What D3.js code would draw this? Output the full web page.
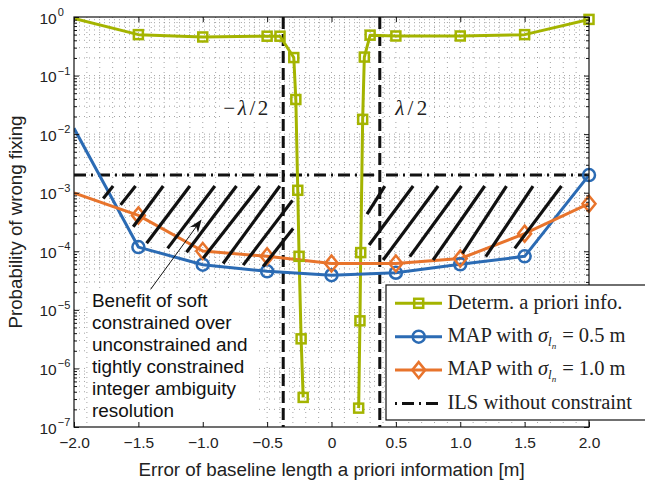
<!DOCTYPE html>
<html><head><meta charset="utf-8">
<script src="https://cdn.jsdelivr.net/npm/d3@7"></script>
<style>body{margin:0;background:#fff}svg{display:block}</style>
</head><body><svg id="c" width="645" height="485"></svg>
<script>
// ---------------- data ----------------
const xTicks = [-2.0, -1.5, -1.0, -0.5, 0, 0.5, 1.0, 1.5, 2.0];
const xTickLabels = ["\u22122.0", "\u22121.5", "\u22121.0", "\u22120.5", "0", "0.5", "1.0", "1.5", "2.0"];
const yTickExps = [0, -1, -2, -3, -4, -5, -6, -7];
const yTickSup = ["0", "\u22121", "\u22122", "\u22123", "\u22124", "\u22125", "\u22126", "\u22127"];

// Determ. a priori info. (null = zero probability -> gap on log axis)
const detX = [-2.0, -1.5, -1.0, -0.5, -0.4, -0.293, -0.277, -0.262, -0.252, -0.236, -0.220, 0,
              0.211, 0.221, 0.227, 0.242, 0.255, 0.30, 0.5, 1.0, 1.5, 2.0];
const detP = [0.94, 0.50, 0.456, 0.47, 0.47, 0.203, 0.039, 1.1e-3, 8.2e-5, 3.2e-6, 3.2e-7, null,
              2.1e-7, 6.5e-6, 9.5e-5, 0.0179, 0.207, 0.49, 0.474, 0.474, 0.50, 0.91];

const mapX = [-2.0, -1.5, -1.0, -0.5, 0, 0.5, 1.0, 1.5, 2.0];
const map05P = [0.0126, 1.18e-4, 5.9e-5, 4.55e-5, 3.9e-5, 4.3e-5, 6.0e-5, 8.2e-5, 2.0e-3];
const map10P = [9.9e-4, 4.1e-4, 1.01e-4, 8.2e-5, 6.2e-5, 6.2e-5, 7.5e-5, 2.0e-4, 6.5e-4];

const ilsP = 2.0e-3;
const halfLambda = 0.375;

// hatch segments [xBottom, pBottom, xTop, pTop]
const hatchSegs = [
  [-1.773, 8.0e-4, -1.696, 1.3e-3],
  [-1.638, 6.2e-4, -1.522, 1.3e-3],
  [-1.540, 2.63e-4, -1.307, 1.3e-3],
  [-1.436, 1.37e-4, -1.100, 1.3e-3],
  [-1.273, 1.12e-4, -0.906, 1.3e-3],
  [-1.126, 9.6e-5, -0.738, 1.3e-3],
  [-0.997, 7.6e-5, -0.557, 1.3e-3],
  [-0.842, 6.2e-5, -0.401, 1.3e-3],
  [-0.686, 5.8e-5, -0.303, 7.4e-4],
  [-0.531, 5.5e-5, -0.298, 2.44e-4],
  [0.276, 4.3e-4, 0.414, 1.3e-3],
  [0.292, 1.28e-4, 0.634, 1.3e-3],
  [0.401, 7.1e-5, 0.828, 1.3e-3],
  [0.608, 8.1e-5, 1.009, 1.3e-3],
  [0.789, 7.1e-5, 1.190, 1.3e-3],
  [1.017, 9.2e-5, 1.359, 1.3e-3],
  [1.198, 8.1e-5, 1.565, 1.3e-3],
  [1.423, 1.12e-4, 1.786, 1.3e-3]
];
const arrowTail = [-1.405, 2.24e-5];
const arrowTip = [-1.009, 3.5e-4];
const noteLines = ["Benefit of soft", "constrained over", "unconstrained and", "tightly constrained", "integer ambiguity", "resolution"];

const xLabel = "Error of baseline length a priori information [m]";
const yLabel = "Probability of wrong fixing";

// ---------------- styles ----------------
const cGreen = "#a4b400", cBlue = "#2b6bb4", cOrange = "#e8742c";
const sans = "'Liberation Sans', Arial, Helvetica, sans-serif";
const serif = "'Liberation Serif', 'Times New Roman', serif";

const svg = d3.select("#c");
const L = 74, R = 589, T = 17, B = 427;
const x = d3.scaleLinear().domain([-2, 2]).range([L, R]);
const y = d3.scaleLog().domain([1e-7, 1]).range([B, T]);

svg.append("defs").append("clipPath").attr("id", "clip")
  .append("rect").attr("x", L).attr("y", T).attr("width", R - L).attr("height", B - T);

// ---------------- grid ----------------
const grid = svg.append("g").attr("stroke", "#8c8c8c").attr("stroke-width", 0.8)
  .attr("stroke-dasharray", "1,4");
const xGrid = d3.range(-19, 20).map(i => i / 10);
grid.selectAll(".gx").data(xGrid).join("line")
  .attr("x1", d => x(d)).attr("x2", d => x(d)).attr("y1", T).attr("y2", B);
const yGrid = [];
for (let e = -7; e <= -1; e++) for (let k = 1; k <= 9; k++) if (!(e === -7 && k === 1)) yGrid.push(k * Math.pow(10, e));
grid.selectAll(".gy").data(yGrid).join("line")
  .attr("x1", L).attr("x2", R).attr("y1", d => y(d)).attr("y2", d => y(d));

// ---------------- reference lines ----------------
const ref = svg.append("g").attr("clip-path", "url(#clip)");
[-halfLambda, halfLambda].forEach(v => {
  ref.append("line").attr("x1", x(v)).attr("x2", x(v)).attr("y1", T).attr("y2", B)
    .attr("stroke", "#111").attr("stroke-width", 3).attr("stroke-dasharray", "12,5");
});
ref.append("line").attr("x1", x(-2)).attr("x2", x(2)).attr("y1", y(ilsP)).attr("y2", y(ilsP))
  .attr("stroke", "#111").attr("stroke-width", 3).attr("stroke-dasharray", "12,5,2,5");

// ---------------- series ----------------
const detData = detX.map((v, i) => ({x: v, p: detP[i]}));
const m05Data = mapX.map((v, i) => ({x: v, p: map05P[i]}));
const m10Data = mapX.map((v, i) => ({x: v, p: map10P[i]}));
const lineGen = d3.line().defined(d => d.p != null && d.p > 0).x(d => x(d.x)).y(d => y(d.p));

const lines = svg.append("g").attr("clip-path", "url(#clip)");
[[detData, cGreen], [m05Data, cBlue], [m10Data, cOrange]].forEach(([data, col]) => {
  lines.append("path").datum(data).attr("d", lineGen).attr("fill", "none")
    .attr("stroke", col).attr("stroke-width", 3).attr("stroke-linejoin", "round");
});

function squareM(g, cx, cy, col) {
  g.append("rect").attr("x", cx - 4.5).attr("y", cy - 4.5).attr("width", 9).attr("height", 9)
    .attr("fill", "none").attr("stroke", col).attr("stroke-width", 2.5);
}
function circleM(g, cx, cy, col) {
  g.append("circle").attr("cx", cx).attr("cy", cy).attr("r", 6)
    .attr("fill", "none").attr("stroke", col).attr("stroke-width", 2.5);
}
function diamondM(g, cx, cy, col) {
  g.append("path").attr("d", `M${cx},${cy - 8}L${cx + 6.5},${cy}L${cx},${cy + 8}L${cx - 6.5},${cy}Z`)
    .attr("fill", "none").attr("stroke", col).attr("stroke-width", 2.5);
}
const marks = svg.append("g");
detData.forEach((d, i) => { if (i > 0 && d.p) squareM(marks, x(d.x), y(d.p), cGreen); });
m05Data.forEach((d, i) => { if (i > 0) circleM(marks, x(d.x), y(d.p), cBlue); });
m10Data.forEach((d, i) => { if (i > 0) diamondM(marks, x(d.x), y(d.p), cOrange); });

// ---------------- hatch ----------------
svg.append("g").selectAll("line").data(hatchSegs).join("line")
  .attr("x1", d => x(d[0])).attr("y1", d => y(d[1])).attr("x2", d => x(d[2])).attr("y2", d => y(d[3]))
  .attr("stroke", "#111").attr("stroke-width", 3.2);

// ---------------- annotation ----------------
const noteG = svg.append("g");
noteG.append("rect").attr("x", 88).attr("y", 289).attr("width", 168).attr("height", B - 289 - 1).attr("fill", "#fff");
noteG.append("text").attr("font-family", sans).attr("font-size", 18.9).attr("fill", "#111")
  .selectAll("tspan").data(noteLines).join("tspan")
  .attr("x", 92).attr("y", (d, i) => 307.3 + i * 21.85).text(d => d);

const ax0 = x(arrowTail[0]), ay0 = y(arrowTail[1]), ax1 = x(arrowTip[0]), ay1 = y(arrowTip[1]);
const ang = Math.atan2(ay1 - ay0, ax1 - ax0);
const hl = 13, hw = 5;
const ux = Math.cos(ang), uy = Math.sin(ang), px = -uy, py = ux;
noteG.append("line").attr("x1", ax0).attr("y1", ay0).attr("x2", ax1 - ux * 6).attr("y2", ay1 - uy * 6)
  .attr("stroke", "#111").attr("stroke-width", 1);
const bx = ax1 - ux * hl, by = ay1 - uy * hl, nx = ax1 - ux * hl * 0.7, ny = ay1 - uy * hl * 0.7;
noteG.append("path").attr("d", `M${ax1},${ay1}L${bx + px * hw},${by + py * hw}L${nx},${ny}L${bx - px * hw},${by - py * hw}Z`)
  .attr("fill", "#111");

// lambda labels
function lamLabel(txt, xStart, width) {
  const g = svg.append("g");
  g.append("rect").attr("x", xStart - 2).attr("y", 99).attr("width", width + 4).attr("height", 20).attr("fill", "#fff");
  const t = g.append("text").attr("x", xStart).attr("y", 115).attr("font-family", serif).attr("font-size", 21)
    .attr("fill", "#222").attr("textLength", width).attr("lengthAdjust", "spacing");
  if (txt.startsWith("\u2212")) t.append("tspan").text("\u2212");
  t.append("tspan").attr("font-style", "italic").text("\u03bb");
  t.append("tspan").text("/2");
}
lamLabel("\u2212", x(-0.84), 45);
lamLabel("", x(0.495), 32);

// ---------------- axes ----------------
const xAxisB = d3.axisBottom(x).tickValues(xTicks).tickFormat((d, i) => xTickLabels[i]).tickSizeInner(-5).tickSizeOuter(0).tickPadding(9.5);
const gxB = svg.append("g").attr("transform", `translate(0,${B})`).call(xAxisB);
gxB.selectAll("text").attr("font-family", sans).attr("font-size", 15.5).attr("fill", "#222");
const gxT = svg.append("g").attr("transform", `translate(0,${T})`)
  .call(d3.axisTop(x).tickValues(xTicks).tickFormat("").tickSizeInner(-5).tickSizeOuter(0));

const yMinor = yGrid.filter(v => Math.abs(Math.log10(v) - Math.round(Math.log10(v))) > 1e-9);
const yMajor = yTickExps.map(e => Math.pow(10, e));
svg.append("g").attr("transform", `translate(${L},0)`).call(d3.axisLeft(y).tickValues(yMajor).tickFormat("").tickSizeInner(-5).tickSizeOuter(0));
svg.append("g").attr("transform", `translate(${L},0)`).call(d3.axisLeft(y).tickValues(yMinor).tickFormat("").tickSizeInner(-3).tickSizeOuter(0));
svg.append("g").attr("transform", `translate(${R},0)`).call(d3.axisRight(y).tickValues(yMajor).tickFormat("").tickSizeInner(-5).tickSizeOuter(0));
svg.append("g").attr("transform", `translate(${R},0)`).call(d3.axisRight(y).tickValues(yMinor).tickFormat("").tickSizeInner(-3).tickSizeOuter(0));
svg.selectAll(".domain").remove();
svg.selectAll(".tick line").attr("stroke", "#111").attr("stroke-width", 1);

svg.append("rect").attr("x", L).attr("y", T).attr("width", R - L).attr("height", B - T)
  .attr("fill", "none").attr("stroke", "#111").attr("stroke-width", 1.2);

const yl = svg.append("g");
yTickExps.forEach((e, i) => {
  const t = yl.append("text").attr("x", 39.5).attr("y", y(Math.pow(10, e)) + 6.5)
    .attr("font-family", sans).attr("font-size", 15.5).attr("fill", "#222");
  t.append("tspan").text("10");
  t.append("tspan").attr("font-size", 11).attr("dy", -7.5).attr("dx", 1).text(yTickSup[i]);
});

svg.append("text").attr("x", (L + R) / 2).attr("y", 476).attr("text-anchor", "middle")
  .attr("font-family", sans).attr("font-size", 18.8).attr("fill", "#222").text(xLabel);
svg.append("text").attr("transform", `translate(22,${(T + B) / 2}) rotate(-90)`).attr("text-anchor", "middle")
  .attr("font-family", sans).attr("font-size", 18.7).attr("fill", "#222").text(yLabel);

// ---------------- legend ----------------
const lg = svg.append("g");
lg.append("rect").attr("x", 386).attr("y", 285).attr("width", 300).attr("height", 135)
  .attr("fill", "#fff").attr("stroke", "#111").attr("stroke-width", 1.2);
const legRows = [
  {col: cGreen, mark: squareM, dash: null},
  {col: cBlue, mark: circleM, dash: null},
  {col: cOrange, mark: diamondM, dash: null},
  {col: "#111", mark: null, dash: "2,5,12,5"}
];
legRows.forEach((r, i) => {
  const cy = 303.3 + i * 33.4;
  lg.append("line").attr("x1", 395).attr("x2", 442).attr("y1", cy).attr("y2", cy)
    .attr("stroke", r.col).attr("stroke-width", 3).attr("stroke-dasharray", r.dash);
  if (r.mark) r.mark(lg, 418.7, cy, r.col);
  const t = lg.append("text").attr("x", 447.5).attr("y", cy + 5.2).attr("font-family", serif)
    .attr("font-size", 20.5).attr("fill", "#222");
  if (i === 0) t.text("Determ. a priori info.");
  else if (i === 3) t.text("ILS without constraint");
  else {
    t.append("tspan").text("MAP with ");
    t.append("tspan").attr("font-style", "italic").text("\u03c3");
    t.append("tspan").attr("font-style", "italic").attr("font-size", 13).attr("dy", 4).text("l");
    t.append("tspan").attr("font-style", "italic").attr("font-size", 9).attr("dy", 3).text("n");
    t.append("tspan").attr("dy", -7).attr("dx", 6).text(i === 1 ? "= 0.5 m" : "= 1.0 m");
  }
});
</script></body></html>
